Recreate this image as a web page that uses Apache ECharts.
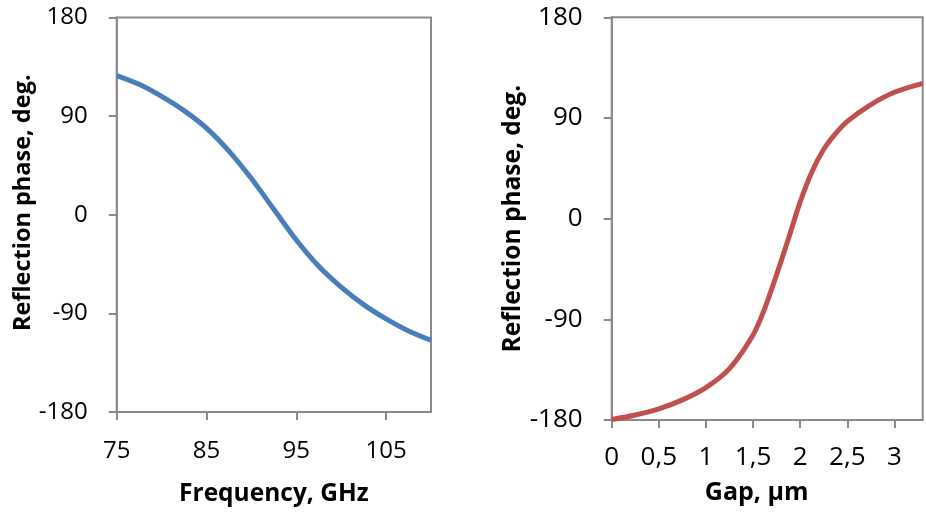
<!DOCTYPE html>
<html>
<head>
<meta charset="utf-8">
<script src="https://cdn.jsdelivr.net/npm/echarts@6/dist/echarts.min.js"></script>
<style>
  html, body { margin: 0; padding: 0; background: #fff; }
  #chart { width: 926px; height: 515px; }
</style>
</head>
<body>
<div id="chart"></div>
<script>
// left panel: phase vs frequency
const freqGHz = [75, 77.5, 80, 82.5, 85, 87.5, 90, 92.5, 95, 97.5, 100, 102.5, 105, 107.5, 110];
const phaseVsFreq = [127, 119, 108, 95, 79, 58, 33, 5, -23, -47, -66, -82, -95, -106, -114.5];
const freqTicks = [75, 85, 95, 105];

// right panel: phase vs gap
const gapUm = [0, 0.25, 0.5, 0.75, 1.0, 1.25, 1.5, 1.625, 1.75, 1.875, 2.0, 2.125, 2.25, 2.375, 2.5, 2.75, 3.0, 3.3];
const phaseVsGap = [-179.5, -175.5, -170, -162, -151, -134, -104, -80, -50, -18, 15, 42, 62, 76, 87, 102, 113, 121];
const gapTicks = [0, 0.5, 1, 1.5, 2, 2.5, 3];

const phaseTicks = [-180, -90, 0, 90, 180];

const FONT = '"Open Sans", "Liberation Sans", sans-serif';
const AXIS_GRAY = '#898989';

function zip(xs, ys) {
    return xs.map((x, i) => [x, ys[i]]);
}

function yAxisCfg(gridIndex, gap, fs, nameFs, namePad) {
    return {
        type: 'value',
        gridIndex: gridIndex,
        min: phaseTicks[0],
        max: phaseTicks[phaseTicks.length - 1],
        interval: 90,
        name: 'Reflection phase, deg.',
        nameLocation: 'middle',
        nameGap: gap,
        nameTextStyle: { fontFamily: FONT, fontSize: nameFs, fontWeight: 'bold', color: '#000', padding: namePad },
        axisLine: { show: true, onZero: false, lineStyle: { color: AXIS_GRAY, width: 2 } },
        axisTick: { show: true, length: 8, lineStyle: { color: AXIS_GRAY, width: 2 } },
        axisLabel: { margin: 29, fontFamily: FONT, fontSize: fs, color: '#000' },
        splitLine: { show: false }
    };
}

const chart = echarts.init(document.getElementById('chart'));
chart.setOption({
    animation: false,
    backgroundColor: '#fff',
    grid: [
        { left: 116.7, top: 17.5, width: 314.3, height: 394.5, show: true, borderColor: AXIS_GRAY, borderWidth: 2, backgroundColor: 'transparent' },
        { left: 611.7, top: 17.3, width: 311, height: 402.7, show: true, borderColor: AXIS_GRAY, borderWidth: 2, backgroundColor: 'transparent' }
    ],
    xAxis: [
        {
            type: 'value',
            gridIndex: 0,
            min: 75,
            max: 110,
            name: 'Frequency, GHz',
            nameLocation: 'middle',
            nameGap: 70,
            nameTextStyle: { fontFamily: FONT, fontSize: 24.5, fontWeight: 'bold', color: '#000' },
            axisLine: { show: true, onZero: false, lineStyle: { color: AXIS_GRAY, width: 2 } },
            axisTick: { show: true, length: 8, customValues: freqTicks, lineStyle: { color: AXIS_GRAY, width: 2 } },
            axisLabel: { margin: 27, customValues: freqTicks, fontFamily: FONT, fontSize: 24, color: '#000' },
            splitLine: { show: false }
        },
        {
            type: 'value',
            gridIndex: 1,
            min: 0,
            max: 3.3,
            name: 'Gap, µm',
            nameLocation: 'middle',
            nameGap: 60,
            nameTextStyle: { fontFamily: FONT, fontSize: 25, fontWeight: 'bold', color: '#000', padding: [0, 21, 0, 0] },
            axisLine: { show: true, onZero: false, lineStyle: { color: AXIS_GRAY, width: 2 } },
            axisTick: { show: true, length: 8, customValues: gapTicks, lineStyle: { color: AXIS_GRAY, width: 2 } },
            axisLabel: {
                margin: 25,
                customValues: gapTicks,
                fontFamily: FONT,
                fontSize: 26,
                color: '#000',
                formatter: v => String(v).replace('.', ',')
            },
            splitLine: { show: false }
        }
    ],
    yAxis: [
        yAxisCfg(0, 80, 24, 23.5, [0, 0, 0, 24]),
        yAxisCfg(1, 85, 26, 24.5, 0)
    ],
    series: [
        {
            type: 'line',
            xAxisIndex: 0,
            yAxisIndex: 0,
            data: zip(freqGHz, phaseVsFreq),
            smooth: 0.3,
            showSymbol: false,
            lineStyle: { color: '#4a7ebb', width: 5 }
        },
        {
            type: 'line',
            xAxisIndex: 1,
            yAxisIndex: 1,
            data: zip(gapUm, phaseVsGap),
            smooth: 0.3,
            showSymbol: false,
            lineStyle: { color: '#c0504d', width: 5 }
        }
    ]
});
</script>
</body>
</html>
